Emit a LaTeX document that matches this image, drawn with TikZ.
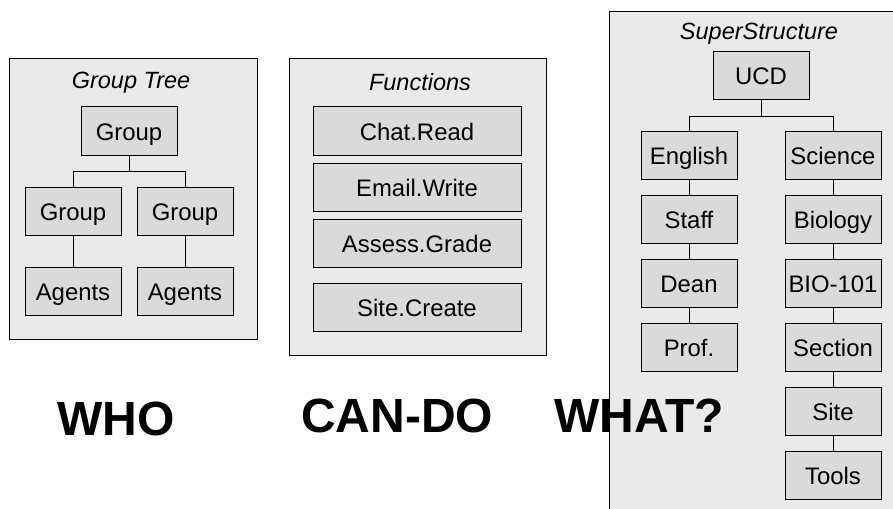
\documentclass[tikz,border=0pt]{standalone}
\usepackage{fontspec}
\setmainfont{Liberation Sans}
\definecolor{panelfill}{RGB}{234,234,234}
\definecolor{itemfill}{RGB}{218,218,218}
\tikzset{
  panel/.style={draw=black, fill=panelfill, line width=1pt},
  item/.style={draw=black, fill=itemfill, line width=1pt, inner sep=0pt,
    minimum width=96pt, minimum height=48pt,
    text height=18.6pt, text depth=0.6pt,
    font=\fontsize{23.9}{28}\selectfont},
  wide/.style={item, minimum width=208pt},
  caption/.style={font=\fontsize{23.5}{28}\selectfont\itshape, inner sep=0pt, anchor=base},
  bigword/.style={font=\fontsize{48}{52}\selectfont\bfseries, inner sep=0pt, anchor=base west},
  link/.style={draw=black, line width=1pt}
}
\begin{document}
\begin{tikzpicture}[x=1pt,y=-1pt]
\useasboundingbox (0,0) rectangle (893,508);
\clip (0,0) rectangle (893,508);
\fill[white] (0,0) rectangle (893,508);

% Panel: group tree
\draw[panel] (9,59) rectangle (257,339);
\node[caption] (gtitle) at (131,89) {Group Tree};
\node[item] (g0) at (129,131) {Group};
\node[item] (g1) at (73,211) {Group};
\node[item] (g2) at (185,211) {Group};
\node[item] (a1) at (73,291) {Agents};
\node[item] (a2) at (185,291) {Agents};
\draw[link] (g0.south) -- ++(0,16) -| (g1.north);
\draw[link] (g0.south) ++(0,16) -| (g2.north);
\draw[link] (g1) -- (a1);
\draw[link] (g2) -- (a2);

% Panel: functions
\draw[panel] (289,59) rectangle (546,355);
\node[caption] (ftitle) at (420,90.5) {Functions};
\node[wide] (f1) at (417,131) {Chat.Read};
\node[wide] (f2) at (417,187) {Email.Write};
\node[wide] (f3) at (417,243) {Assess.Grade};
\node[wide] (f4) at (417,307) {Site.Create};

% Panel: super structure
\draw[panel] (609,12) rectangle (900,520);
\node[caption] (stitle) at (759,40) {SuperStructure};
\node[item] (ucd) at (761,75.5) {UCD};
\node[item] (eng) at (689,155.5) {English};
\node[item] (staff) at (689,219.5) {Staff};
\node[item] (dean) at (689,283.5) {Dean};
\node[item] (prof) at (689,347.5) {Prof.};
\node[item] (sci) at (833,155.5) {Science};
\node[item] (bio) at (833,219.5) {Biology};
\node[item] (b101) at (833,283.5) {BIO-101};
\node[item] (sec) at (833,347.5) {Section};
\node[item] (site) at (833,411.5) {Site};
\node[item] (tools) at (833,475.5) {Tools};
\draw[link] (ucd.south) -- ++(0,16.5) -| (eng.north);
\draw[link] (ucd.south) ++(0,16.5) -| (sci.north);
\draw[link] (eng) -- (staff);
\draw[link] (staff) -- (dean);
\draw[link] (dean) -- (prof);
\draw[link] (sci) -- (bio);
\draw[link] (bio) -- (b101);
\draw[link] (b101) -- (sec);
\draw[link] (sec) -- (site);
\draw[link] (site) -- (tools);

% Headline words
\node[bigword] (who) at (57,435) {WHO};
\node[bigword] (cando) at (301,432) {CAN-DO};
\node[bigword] (what) at (554,432) {WHAT?};
\end{tikzpicture}
\end{document}
